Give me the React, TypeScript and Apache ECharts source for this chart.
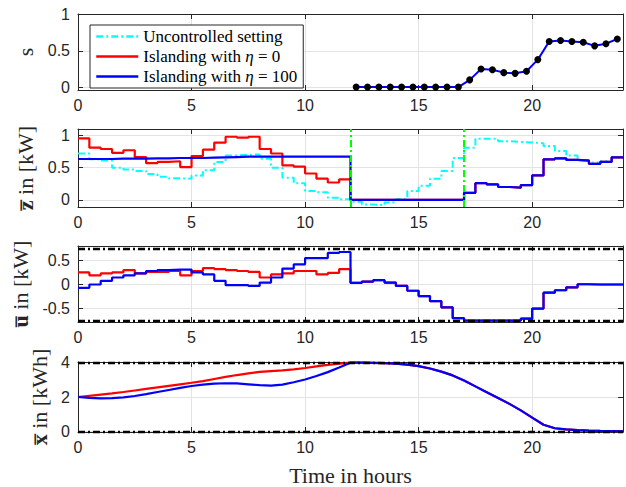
import React, { useEffect, useRef } from "react";
import * as echarts from "echarts";

// ---------- data ----------
const STEP = 0.5; // hours per control interval
const xTicks = [0, 5, 10, 15, 20];
const sTicks = [0, 0.5, 1];
const zTicks = [0, 0.5, 1];
const uTicks = [-0.5, 0, 0.5];
const xStateTicks = [0, 2, 4];

// z̄ (kW) per half-hour interval, 0..24 h
const zUncontrolled = [
  0.72, 0.63, 0.61, 0.5, 0.47, 0.45, 0.4, 0.36, 0.335, 0.33, 0.38, 0.46,
  0.59, 0.69, 0.7, 0.705, 0.64, 0.5, 0.345, 0.26, 0.14, 0.12, 0.035, 0.01,
  -0.03, -0.07, -0.08, -0.04, 0.01, 0.14, 0.22, 0.33, 0.45, 0.65, 0.81, 0.95,
  0.95, 0.91, 0.9, 0.89, 0.88, 0.835, 0.76, 0.69, 0.62, 0.58, 0.6, 0.66,
];
const zIsland0 = [
  0.955, 0.81, 0.79, 0.73, 0.77, 0.665, 0.57, 0.59, 0.6, 0.51, 0.68, 0.78,
  0.89, 0.98, 0.965, 0.98, 0.79, 0.72, 0.535, 0.515, 0.41, 0.33, 0.27, 0.32,
  0, 0, 0, 0, 0, 0, 0, 0, 0, 0, 0.11, 0.26,
  0.24, 0.2, 0.19, 0.23, 0.38, 0.63, 0.645, 0.62, 0.61, 0.56, 0.59, 0.66,
];
const zIsland100 = [
  0.635, 0.635, 0.635, 0.64, 0.64, 0.64, 0.645, 0.645, 0.65, 0.65, 0.65, 0.655,
  0.66, 0.665, 0.67, 0.67, 0.67, 0.67, 0.67, 0.67, 0.67, 0.67, 0.67, 0.67,
  0, 0, 0, 0, 0, 0, 0, 0, 0, 0, 0.11, 0.26,
  0.24, 0.2, 0.19, 0.23, 0.38, 0.63, 0.645, 0.62, 0.61, 0.56, 0.59, 0.66,
];

// s, sampled at mid-interval from 12.25 h
const sStart = 12.25;
const sValues = [
  0, 0, 0, 0, 0, 0, 0, 0, 0, 0, 0.1, 0.25,
  0.24, 0.2, 0.19, 0.22, 0.38, 0.63, 0.645, 0.63, 0.62, 0.57, 0.6, 0.665,
];

// ū (kW) per half-hour interval
const uIsland0 = [
  0.25, 0.19, 0.23, 0.25, 0.3, 0.23, 0.26, 0.26, 0.28, 0.19, 0.28, 0.34,
  0.32, 0.3, 0.28, 0.26, 0.145, 0.21, 0.23, 0.28, 0.28, 0.21, 0.24, 0.32,
  0.035, 0.06, 0.09, 0.04, -0.03, -0.13, -0.24, -0.345, -0.475, -0.7, -0.75, -0.75,
  -0.75, -0.75, -0.75, -0.71, -0.5, -0.17, -0.12, -0.06, 0.005, 0, 0, 0,
];
const uIsland100 = [
  -0.07, 0.0, 0.075, 0.145, 0.19, 0.23, 0.28, 0.3, 0.31, 0.31, 0.25, 0.21,
  0.075, -0.015, -0.015, -0.03, 0.04, 0.145, 0.33, 0.42, 0.55, 0.55, 0.655, 0.675,
  0.035, 0.06, 0.09, 0.04, -0.03, -0.13, -0.24, -0.345, -0.475, -0.7, -0.75, -0.75,
  -0.75, -0.75, -0.75, -0.71, -0.5, -0.17, -0.12, -0.06, 0.005, 0, 0, 0,
];
const uBounds = [0.75, -0.75];

// x̄ (kWh) sampled every half hour, 0..24 h
const xIsland0 = [
  2.0, 2.07, 2.14, 2.21, 2.29, 2.38, 2.47, 2.56, 2.65, 2.74, 2.83, 2.93,
  3.05, 3.17, 3.28, 3.38, 3.46, 3.51, 3.55, 3.61, 3.69, 3.78, 3.87, 3.95,
  4.0, 4.0, 3.99, 3.98, 3.95, 3.89, 3.8, 3.66, 3.48, 3.26, 2.96, 2.62,
  2.28, 1.94, 1.6, 1.22, 0.8, 0.38, 0.18, 0.11, 0.07, 0.04, 0.02, 0.01, 0.0,
];
const xIsland100 = [
  2.0, 1.95, 1.92, 1.93, 1.98, 2.06, 2.17, 2.29, 2.41, 2.53, 2.64, 2.72,
  2.78, 2.8, 2.79, 2.74, 2.69, 2.66, 2.72, 2.86, 3.02, 3.22, 3.45, 3.72,
  4.0, 4.0, 3.99, 3.98, 3.95, 3.89, 3.8, 3.66, 3.48, 3.26, 2.96, 2.62,
  2.28, 1.94, 1.6, 1.22, 0.8, 0.38, 0.18, 0.11, 0.07, 0.04, 0.02, 0.01, 0.0,
];
const xBounds = [4, 0];
const islandingEvents = [12, 17];

const NAME_UNC = "Uncontrolled setting";
const NAME_I0 = "Islanding with η = 0";
const NAME_I100 = "Islanding with η = 100";

// ---------- styling ----------
const SANS = "'Liberation Sans', Arial, Helvetica, sans-serif";
const SERIF = "'Liberation Serif', 'Times New Roman', serif";
const INK = "#262626";
const GRIDLINE = "#e3e3e3";
const DASHDOT = [7, 3, 2, 3];
const NAME_SIZE = 22;

const stepPts = (v: number[]) =>
  v.map((y, i) => [i * STEP, y]).concat([[v.length * STEP, v[v.length - 1]]]);
const samplePts = (v: number[], start = 0) => v.map((y, i) => [start + i * STEP, y]);

const tickStyle = { inside: true, length: 5, lineStyle: { color: INK, width: 1 } };

function xAxesFor(gi: number, withName: boolean) {
  return [
    {
      type: "value", gridIndex: gi, min: 0, max: 24, position: "bottom",
      axisLine: { show: true, onZero: false, lineStyle: { color: INK, width: 1 } },
      axisTick: { ...tickStyle, customValues: xTicks },
      axisLabel: { customValues: xTicks, color: INK, fontFamily: SANS, fontSize: 16, margin: 7 },
      splitLine: { show: true, lineStyle: { color: GRIDLINE, width: 1 } },
      name: withName ? "Time in hours" : "",
      nameLocation: "middle", nameGap: 32,
      nameTextStyle: { fontFamily: SERIF, fontSize: NAME_SIZE, color: INK },
    },
    {
      type: "value", gridIndex: gi, min: 0, max: 24, position: "top",
      axisLine: { show: true, onZero: false, lineStyle: { color: INK, width: 1 } },
      axisTick: { ...tickStyle, customValues: xTicks },
      axisLabel: { show: false },
      splitLine: { show: false },
    },
  ];
}

function yAxesFor(gi: number, min: number, max: number, ticks: number[], name: string, gap: number) {
  return [
    {
      type: "value", gridIndex: gi, min, max, position: "left",
      axisLine: { show: true, onZero: false, lineStyle: { color: INK, width: 1 } },
      axisTick: { ...tickStyle, customValues: ticks },
      axisLabel: { customValues: ticks, color: INK, fontFamily: SANS, fontSize: 16, margin: 8 },
      splitLine: { show: true, lineStyle: { color: GRIDLINE, width: 1 } },
      name, nameLocation: "middle", nameGap: gap, nameRotate: 90,
      nameTextStyle: {
        fontFamily: SERIF, fontSize: NAME_SIZE, color: INK,
        rich: { b: { fontFamily: SERIF, fontSize: NAME_SIZE, fontWeight: "bold", color: INK } },
      },
    },
    {
      type: "value", gridIndex: gi, min, max, position: "right",
      axisLine: { show: true, onZero: false, lineStyle: { color: INK, width: 1 } },
      axisTick: { ...tickStyle, customValues: ticks },
      axisLabel: { show: false },
      splitLine: { show: false },
    },
  ];
}

const markLineBase = { silent: true, symbol: "none", label: { show: false }, animation: false };

export default function App() {
  const ref = useRef<HTMLDivElement>(null);
  useEffect(() => {
    if (!ref.current) return;
    const chart = echarts.init(ref.current, undefined, { renderer: "svg" });
    const grids = [
      { left: 78, right: 3, top: 14, height: 76 },
      { left: 78, right: 3, top: 129, height: 78 },
      { left: 78, right: 3, top: 246, height: 76 },
      { left: 78, right: 3, top: 362, height: 76 },
    ];
    const xAxis = [
      ...xAxesFor(0, false), ...xAxesFor(1, false), ...xAxesFor(2, false), ...xAxesFor(3, true),
    ];
    const yAxis = [
      ...yAxesFor(0, -0.04, 1.01, sTicks, "s", 40),
      ...yAxesFor(1, -0.11, 1.1, zTicks, "{b|z\u0305} in [kW]", 42),
      ...yAxesFor(2, -0.78, 0.8, uTicks, "{b|u\u0305} in [kW]", 47),
      ...yAxesFor(3, -0.04, 4.04, xStateTicks, "{b|x\u0305} in [kWh]", 25),
    ];
    const line = (name: string, g: number, data: any, color: string, extra: any = {}) => ({
      type: "line", name, xAxisIndex: 2 * g, yAxisIndex: 2 * g, data,
      symbol: "none", lineStyle: { color, width: 2.2 }, itemStyle: { color },
      ...extra,
    });
    const series: any[] = [
      line(NAME_UNC, 1, stepPts(zUncontrolled), "#00ffff", {
        step: "end", lineStyle: { color: "#00ffff", width: 2, type: DASHDOT },
      }),
      line(NAME_I0, 1, stepPts(zIsland0), "#ff0000", { step: "end" }),
      line(NAME_I100, 1, stepPts(zIsland100), "#0000ff", {
        step: "end",
        markLine: {
          ...markLineBase,
          lineStyle: { color: "#00ff00", width: 2, type: DASHDOT },
          data: islandingEvents.map((t) => ({ xAxis: t })),
        },
      }),
      line("s", 0, samplePts(sValues, sStart), "#0000ff", {
        symbol: "circle", symbolSize: 7, showSymbol: true,
        lineStyle: { color: "#0000ff", width: 2 }, itemStyle: { color: "#000" },
      }),
      line(NAME_I0, 2, stepPts(uIsland0), "#ff0000", { step: "end" }),
      line(NAME_I100, 2, stepPts(uIsland100), "#0000ff", {
        step: "end",
        markLine: {
          ...markLineBase,
          lineStyle: { color: "#000", width: 2.4, type: DASHDOT },
          data: uBounds.map((b) => ({ yAxis: b })),
        },
      }),
      line(NAME_I0, 3, samplePts(xIsland0), "#ff0000"),
      line(NAME_I100, 3, samplePts(xIsland100), "#0000ff", {
        markLine: {
          ...markLineBase,
          lineStyle: { color: "#000", width: 2.4, type: DASHDOT },
          data: xBounds.map((b) => ({ yAxis: b })),
        },
      }),
    ];
    chart.setOption({
      animation: false,
      backgroundColor: "#fff",
      grid: grids,
      xAxis,
      yAxis,
      legend: {
        data: [NAME_UNC, NAME_I0, NAME_I100],
        left: 90, top: 25, orient: "vertical",
        backgroundColor: "#fff", borderColor: INK, borderWidth: 1,
        padding: [3, 6, 3, 5], itemGap: 3, itemWidth: 42, itemHeight: 14,
        selectedMode: false,
        itemStyle: { opacity: 0 },
        lineStyle: { width: 2.5 },
        formatter: (n: string) => n.replace("η", "{i|η}"),
        textStyle: {
          fontFamily: SERIF, fontSize: 17, color: "#000",
          rich: { i: { fontFamily: SERIF, fontSize: 17, fontStyle: "italic", color: "#000" } },
        },
      },
      series,
    });
    return () => chart.dispose();
  }, []);
  return (
    <div
      ref={ref}
      style={{ position: "fixed", left: 0, top: 0, width: 626, height: 487, background: "#fff" }}
    />
  );
}
